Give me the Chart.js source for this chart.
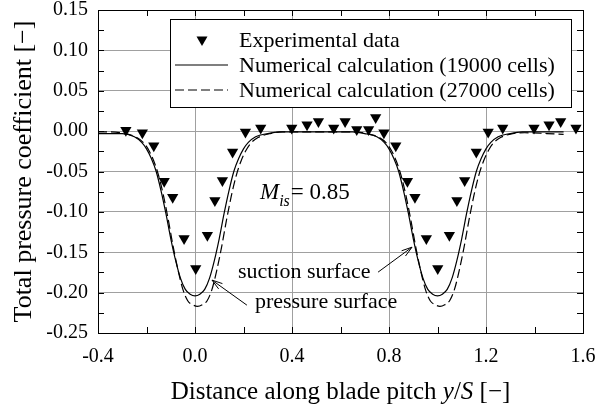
<!DOCTYPE html>
<html lang="en">
<head>
    <meta charset="UTF-8">
    <title>Total pressure coefficient</title>
    <script src="https://cdn.jsdelivr.net/npm/chart.js"></script>
    <style>
        body { margin: 0; background: #fff; }
        #chart { display: block; }
    </style>
</head>
<body>
    <canvas id="chart" width="608" height="408"></canvas>
    <script>
        // Experimental data (triangles)
        const expX = [-0.285, -0.217, -0.170, -0.127, -0.092, -0.045, 0.003, 0.051, 0.082, 0.113, 0.155,
            0.208, 0.271, 0.399, 0.462, 0.509, 0.572, 0.619, 0.667, 0.716, 0.745, 0.779, 0.828,
            0.876, 0.907, 0.954, 1.001, 1.049, 1.080, 1.112, 1.160, 1.209, 1.269, 1.398, 1.460, 1.508, 1.571];
        const expY = [0.001, -0.002, -0.018, -0.062, -0.082, -0.133, -0.170, -0.129, -0.086, -0.061, -0.026,
            -0.001, 0.004, 0.004, 0.008, 0.012, 0.004, 0.012, 0.002, 0.002, 0.017, -0.002, -0.018,
            -0.062, -0.082, -0.133, -0.170, -0.129, -0.086, -0.061, -0.026, -0.001, 0.004, 0.004, 0.008, 0.012, 0.004];

        // Numerical calculation, 19000 cells (solid)
        const solidX = [-0.40, -0.35, -0.30, -0.25, -0.22, -0.20, -0.18, -0.16, -0.14, -0.12, -0.10, -0.08,
            -0.06, -0.04, -0.02, 0.00, 0.02, 0.04, 0.06, 0.08, 0.10, 0.12, 0.14, 0.16, 0.18, 0.20, 0.22,
            0.25, 0.30, 0.35, 0.45, 0.55, 0.65, 0.70, 0.75, 0.78, 0.80, 0.82, 0.84, 0.86, 0.88, 0.90,
            0.92, 0.94, 0.96, 0.98, 1.00, 1.02, 1.04, 1.06, 1.08, 1.10, 1.12, 1.14, 1.16, 1.18, 1.20,
            1.22, 1.25, 1.30, 1.35, 1.45, 1.52];
        const solidY = [-0.003, -0.003, -0.003, -0.007, -0.014, -0.022, -0.034, -0.050, -0.074, -0.102, -0.133, -0.160,
            -0.182, -0.196, -0.202, -0.204, -0.202, -0.196, -0.182, -0.160, -0.133, -0.102, -0.074, -0.050, -0.034, -0.022, -0.014,
            -0.007, -0.003, -0.001, -0.001, -0.001, -0.001, -0.003, -0.007, -0.014, -0.022, -0.034, -0.050, -0.074, -0.102, -0.133,
            -0.160, -0.182, -0.196, -0.202, -0.204, -0.202, -0.196, -0.182, -0.160, -0.133, -0.102, -0.074, -0.050, -0.034, -0.022,
            -0.014, -0.007, -0.003, -0.001, -0.001, -0.001];

        // Numerical calculation, 27000 cells (dashed)
        const dashX = [-0.40, -0.35, -0.29, -0.24, -0.21, -0.19, -0.17, -0.15, -0.13, -0.11, -0.09, -0.07,
            -0.05, -0.03, -0.01, 0.01, 0.03, 0.05, 0.07, 0.09, 0.11, 0.13, 0.15, 0.17, 0.19, 0.21, 0.23,
            0.26, 0.31, 0.36, 0.45, 0.55, 0.65, 0.71, 0.76, 0.79, 0.81, 0.83, 0.85, 0.87, 0.89, 0.91,
            0.93, 0.95, 0.97, 0.99, 1.01, 1.03, 1.05, 1.07, 1.09, 1.11, 1.13, 1.15, 1.17, 1.19, 1.21,
            1.23, 1.26, 1.31, 1.36, 1.45, 1.52];
        const dashY = [-0.001, -0.001, -0.003, -0.008, -0.015, -0.024, -0.037, -0.055, -0.080, -0.110, -0.143, -0.172,
            -0.196, -0.210, -0.215, -0.217, -0.215, -0.210, -0.196, -0.172, -0.143, -0.110, -0.080, -0.055, -0.037, -0.024, -0.015,
            -0.008, -0.003, -0.001, -0.001, -0.001, -0.001, -0.003, -0.008, -0.015, -0.024, -0.037, -0.055, -0.080, -0.110, -0.143,
            -0.172, -0.196, -0.210, -0.215, -0.217, -0.215, -0.210, -0.196, -0.172, -0.143, -0.110, -0.080, -0.055, -0.037, -0.024,
            -0.015, -0.008, -0.003, -0.002, -0.003, -0.004];

        const legendLabels = ['Experimental data', 'Numerical calculation (19000 cells)', 'Numerical calculation (27000 cells)'];

        const SERIF = "'Liberation Serif', 'Times New Roman', serif";

        function pairs(xs, ys) {
            return xs.map((x, i) => ({ x: x, y: ys[i] }));
        }

        // frame, inward minor ticks, legend, annotations, x title
        const decorations = {
            id: 'decorations',
            afterDatasetsDraw(chart) {
                const ctx = chart.ctx;
                const area = chart.chartArea;
                const xs = chart.scales.x;
                const ys = chart.scales.y;
                ctx.save();
                ctx.strokeStyle = '#000';
                ctx.lineWidth = 1;

                // minor ticks
                ctx.beginPath();
                for (let i = 0; i <= 10; i++) {
                    const px = Math.round(xs.getPixelForValue(-0.4 + i * 0.2)) + 0.5;
                    ctx.moveTo(px, area.bottom); ctx.lineTo(px, area.bottom - 6);
                    ctx.moveTo(px, area.top); ctx.lineTo(px, area.top + 6);
                }
                for (let i = 0; i <= 16; i++) {
                    const py = Math.round(ys.getPixelForValue(-0.25 + i * 0.025)) + 0.5;
                    ctx.moveTo(area.left, py); ctx.lineTo(area.left + 6, py);
                    ctx.moveTo(area.right, py); ctx.lineTo(area.right - 6, py);
                }
                ctx.stroke();

                // frame
                ctx.strokeRect(Math.round(area.left) + 0.5, Math.round(area.top) + 0.5,
                    Math.round(area.right - area.left), Math.round(area.bottom - area.top));

                // legend
                const lx = 170, ly = 19, lw = 401, lh = 88;
                ctx.fillStyle = '#fff';
                ctx.fillRect(lx, ly, lw, lh);
                ctx.strokeRect(lx + 0.5, ly + 0.5, lw, lh);
                ctx.fillStyle = '#000';
                ctx.font = '22px ' + SERIF;
                ctx.textBaseline = 'middle';
                ctx.textAlign = 'left';
                const rows = [40, 65, 90];
                // triangle marker
                ctx.beginPath();
                ctx.moveTo(202 - 5.5, rows[0] - 3.5);
                ctx.lineTo(202 + 5.5, rows[0] - 3.5);
                ctx.lineTo(202, rows[0] + 6);
                ctx.closePath();
                ctx.fill();
                ctx.lineWidth = 1.2;
                ctx.beginPath();
                ctx.moveTo(175, rows[1]); ctx.lineTo(228, rows[1]);
                ctx.stroke();
                ctx.setLineDash([9, 4]);
                ctx.beginPath();
                ctx.moveTo(175, rows[2]); ctx.lineTo(228, rows[2]);
                ctx.stroke();
                ctx.setLineDash([]);
                legendLabels.forEach((t, i) => ctx.fillText(t, 239, rows[i] + 1));

                // Mach number label
                ctx.textBaseline = 'alphabetic';
                let mx = xs.getPixelForValue(0.268);
                const my = ys.getPixelForValue(-0.084);
                ctx.font = 'italic 23px ' + SERIF;
                ctx.fillText('M', mx, my);
                mx += ctx.measureText('M').width;
                ctx.font = 'italic 16px ' + SERIF;
                ctx.fillText('is', mx, my + 7);
                mx += ctx.measureText('is').width + 1;
                ctx.font = '23px ' + SERIF;
                ctx.fillText('= 0.85', mx, my);

                // surface labels and arrows
                ctx.font = '22px ' + SERIF;
                ctx.fillText('suction surface', xs.getPixelForValue(0.177), ys.getPixelForValue(-0.1815));
                ctx.fillText('pressure surface', xs.getPixelForValue(0.247), ys.getPixelForValue(-0.2185));
                ctx.lineWidth = 1;
                drawArrow(ctx, xs.getPixelForValue(0.755), ys.getPixelForValue(-0.1746),
                    xs.getPixelForValue(0.895), ys.getPixelForValue(-0.1437));
                drawArrow(ctx, xs.getPixelForValue(0.214), ys.getPixelForValue(-0.2155),
                    xs.getPixelForValue(0.070), ys.getPixelForValue(-0.1845));

                // x axis title with italic y/S
                const parts = [['Distance along blade pitch ', ''], ['y', 'italic '], ['/', ''], ['S', 'italic '], [' [\u2212]', '']];
                let total = 0;
                parts.forEach(p => { ctx.font = p[1] + '25px ' + SERIF; total += ctx.measureText(p[0]).width; });
                let tx = (area.left + area.right) / 2 - total / 2;
                parts.forEach(p => {
                    ctx.font = p[1] + '25px ' + SERIF;
                    ctx.fillText(p[0], tx, 399);
                    tx += ctx.measureText(p[0]).width;
                });
                ctx.restore();
            }
        };

        function drawArrow(ctx, x0, y0, x1, y1) {
            const a = Math.atan2(y1 - y0, x1 - x0);
            const len = 11, spread = 0.3;
            ctx.beginPath();
            ctx.moveTo(x0, y0); ctx.lineTo(x1, y1);
            ctx.moveTo(x1 - len * Math.cos(a - spread), y1 - len * Math.sin(a - spread));
            ctx.lineTo(x1, y1);
            ctx.lineTo(x1 - len * Math.cos(a + spread), y1 - len * Math.sin(a + spread));
            ctx.stroke();
        }

        new Chart(document.getElementById('chart'), {
            type: 'scatter',
            data: {
                datasets: [{
                    label: legendLabels[0],
                    data: pairs(expX, expY),
                    pointStyle: 'triangle',
                    rotation: 180,
                    pointRadius: 6.5,
                    backgroundColor: '#000',
                    borderColor: '#000',
                    borderWidth: 0,
                    showLine: false
                }, {
                    label: legendLabels[1],
                    data: pairs(solidX, solidY),
                    showLine: true,
                    borderColor: '#000',
                    borderWidth: 1.2,
                    pointRadius: 0,
                    cubicInterpolationMode: 'monotone',
                    fill: false
                }, {
                    label: legendLabels[2],
                    data: pairs(dashX, dashY),
                    showLine: true,
                    borderColor: '#000',
                    borderWidth: 1.2,
                    borderDash: [9, 4],
                    pointRadius: 0,
                    cubicInterpolationMode: 'monotone',
                    fill: false
                }]
            },
            options: {
                responsive: false,
                animation: false,
                events: [],
                layout: { padding: { top: 10, right: 25, left: 0, bottom: 0 } },
                plugins: {
                    legend: { display: false },
                    tooltip: { enabled: false }
                },
                scales: {
                    x: {
                        type: 'linear',
                        min: -0.4,
                        max: 1.6,
                        afterFit: s => { s.height = 75; s.paddingLeft = 0; s.paddingRight = 0; },
                        ticks: {
                            stepSize: 0.4,
                            padding: 12,
                            color: '#000',
                            font: { family: SERIF, size: 20 },
                            callback: v => v.toFixed(1)
                        },
                        grid: { color: '#a0a0a0', lineWidth: 1, drawTicks: false },
                        border: { display: false }
                    },
                    y: {
                        type: 'linear',
                        min: -0.25,
                        max: 0.15,
                        afterFit: s => { s.width = 98; s.paddingTop = 0; s.paddingBottom = 0; },
                        ticks: {
                            stepSize: 0.05,
                            padding: 10,
                            color: '#000',
                            font: { family: SERIF, size: 20 },
                            callback: v => v.toFixed(2)
                        },
                        grid: { color: '#a0a0a0', lineWidth: 1, drawTicks: false },
                        border: { display: false },
                        title: {
                            display: true,
                            text: 'Total pressure coefficient [\u2212]',
                            color: '#000',
                            font: { family: SERIF, size: 26 },
                            padding: { top: 9, bottom: 0 }
                        }
                    }
                }
            },
            plugins: [decorations]
        });
    </script>
</body>
</html>
